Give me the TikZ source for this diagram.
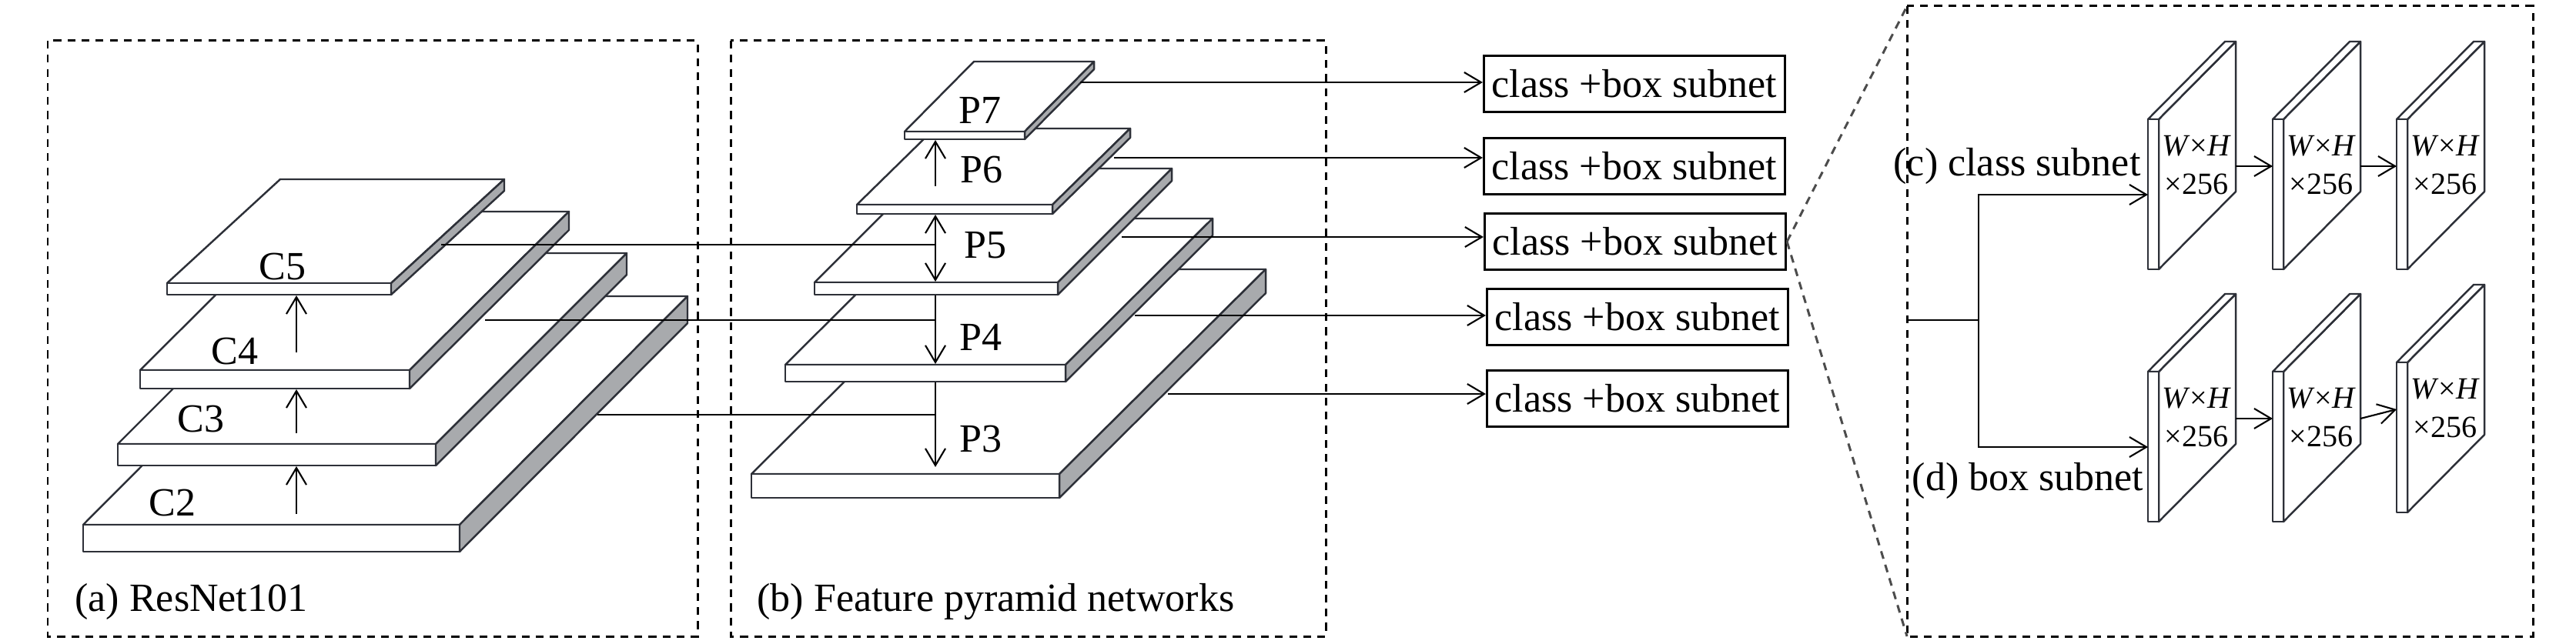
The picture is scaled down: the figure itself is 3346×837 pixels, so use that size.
\documentclass[tikz,border=0pt]{standalone}
\usepackage{fontspec}
\setmainfont{Liberation Serif}
\usetikzlibrary{arrows.meta,calc,positioning}

\definecolor{slabline}{RGB}{45,48,56}
\definecolor{slabgray}{RGB}{168,170,173}

% one feature slab: name, x, y (front top-left), width, depth dx, depth dy, thickness
\newcommand{\slab}[7]{%
  \coordinate (#1-fl) at (#2,#3);
  \coordinate (#1-fr) at (#2+#4,#3);
  \coordinate (#1-br) at (#2+#4+#5,#3-#6);
  \coordinate (#1-bl) at (#2+#5,#3-#6);
  \draw[face] (#1-fl) -- (#1-fr) -- (#1-br) -- (#1-bl) -- cycle;
  \draw[face] (#1-fl) rectangle ($(#1-fr)+(0,#7)$);
  \draw[side] (#1-fr) -- (#1-br) -- ++(0,#7) -- ($(#1-fr)+(0,#7)$) -- cycle;
}

% one subnet map standing upright: name, x, y (front top-left)
\newcommand{\fmap}[3]{%
  \coordinate (#1-feed) at (#2,#3+98);
  \coordinate (#1-in) at (#2,#3+61);
  \coordinate (#1-out) at (#2+114,#3+61);
  \draw[face] (#2+14,#3) -- ++(100,-101) -- ++(0,195) -- ++(-100,101) -- cycle;
  \draw[face] (#2,#3) -- ++(100,-101) -- ++(14,0) -- ++(-100,101) -- cycle;
  \draw[face] (#2,#3) rectangle ++(14,195);
  \node[maplabel] (#1-wh) at (#2+63,#3+35) {\textit{W}×\textit{H}};
  \node[maplabel] (#1-ch) at (#2+63,#3+84) {×256};
}

\begin{document}
\begin{tikzpicture}[x=0.01cm,y=-0.01cm,
  font=\fontsize{14.8}{17}\selectfont,
  region/.style={draw,line width=0.85pt,dash pattern=on 2.9pt off 2.3pt},
  face/.style={draw=slabline,fill=white,line width=0.7pt,line join=round},
  side/.style={draw=slabline,fill=slabgray,line width=0.7pt,line join=round},
  conn/.style={line width=0.6pt},
  arr/.style={conn,-{Straight Barb[length=2.2mm,width=2.6mm]}},
  subnet/.style={draw,line width=0.85pt,minimum width=3.91cm,minimum height=0.72cm,inner sep=0pt},
  maplabel/.style={font=\fontsize{11.4}{13}\selectfont}]
  \useasboundingbox (0,0) rectangle (3346,837);

  % regions
  \coordinate (c-tl) at (2477,8);
  \coordinate (c-bl) at (2477,827);
  \draw[region] (62,53) rectangle (906,827);
  \draw[region] (949,53) rectangle (1722,827);
  \draw[region] (c-tl) rectangle (3290,827);
  \node[anchor=base west] (a-lab) at (85,794) {(a) ResNet101};
  \node[anchor=base west] (b-lab) at (971,794) {(b) Feature pyramid networks};

  % (a) backbone
  \slab{c2}{108}{682}{489}{296}{297}{35}
  \slab{c3}{153}{577}{413}{248}{248}{28}
  \slab{c4}{182}{481}{350}{207}{206}{24}
  \slab{c5}{217}{368}{291}{147}{135}{15}
  \node (c2-lab) at (224,654) {C2};
  \node (c3-lab) at (261,545) {C3};
  \node (c4-lab) at (305,457) {C4};
  \node (c5-lab) at (367,347) {C5};
  \coordinate (c2-top) at (385,668);
  \coordinate (c3-bot) at (385,606);
  \coordinate (c3-top) at (385,563);
  \coordinate (c4-bot) at (385,506);
  \coordinate (c4-top) at (385,458);
  \coordinate (c5-bot) at (385,384);
  \draw[arr] (c2-top) -- (c3-bot);
  \draw[arr] (c3-top) -- (c4-bot);
  \draw[arr] (c4-top) -- (c5-bot);

  % (b) pyramid
  \slab{p3}{976}{616}{400}{268}{266}{31}
  \slab{p4}{1020}{474}{364}{191}{190}{22}
  \slab{p5}{1058}{367}{316}{148}{148}{16}
  \slab{p6}{1113}{266}{254}{101}{99}{12}
  \slab{p7}{1175}{171}{156}{90}{91}{10}
  \node (p3-lab) at (1274,571) {P3};
  \node (p4-lab) at (1274,438) {P4};
  \node (p5-lab) at (1280,319) {P5};
  \node (p6-lab) at (1275,221) {P6};
  \node (p7-lab) at (1273,143) {P7};
  \coordinate (p6-top) at (1215,242);
  \coordinate (p7-bot) at (1215,182);
  \coordinate (p6-bot) at (1215,279);
  \coordinate (p5-top) at (1215,366);
  \coordinate (p5-bot) at (1215,384);
  \coordinate (p4-top) at (1215,473);
  \coordinate (p4-bot) at (1215,497);
  \coordinate (p3-top) at (1215,607);
  \draw[arr] (p6-top) -- (p7-bot);
  \draw[conn,{Straight Barb[length=2.2mm,width=2.6mm]}-{Straight Barb[length=2.2mm,width=2.6mm]}] (p6-bot) -- (p5-top);
  \draw[arr] (p5-bot) -- (p4-top);
  \draw[arr] (p4-bot) -- (p3-top);

  % lateral links
  \coordinate (c5-out) at (573,318);
  \coordinate (c4-out) at (630,416);
  \coordinate (c2-out) at (776,539);
  \draw[conn] (c5-out) -- (c5-out -| p5-top);
  \draw[conn] (c4-out) -- (c4-out -| p4-top);
  \draw[conn] (c2-out) -- (c2-out -| p3-top);

  % heads
  \node[subnet] (box1) at (2123,109) {class +box subnet};
  \node[subnet] (box2) at (2123,216) {class +box subnet};
  \node[subnet] (box3) at (2124,314) {class +box subnet};
  \node[subnet] (box4) at (2127,412) {class +box subnet};
  \node[subnet] (box5) at (2127,518) {class +box subnet};
  \coordinate (p7-out) at (1403,107);
  \coordinate (p6-out) at (1447,205);
  \coordinate (p5-out) at (1457,308);
  \coordinate (p4-out) at (1474,410);
  \coordinate (p3-out) at (1517,512);
  \draw[arr] (p7-out) -- (p7-out -| box1.west);
  \draw[arr] (p6-out) -- (p6-out -| box2.west);
  \draw[arr] (p5-out) -- (p5-out -| box3.west);
  \draw[arr] (p4-out) -- (p4-out -| box4.west);
  \draw[arr] (p3-out) -- (p3-out -| box5.west);
  \draw[region,black!70] (box3.east) -- (c-tl);
  \draw[region,black!70] (box3.east) -- (c-bl);

  % (c)/(d) subnets
  \fmap{m11}{2790}{155}
  \fmap{m12}{2952}{155}
  \fmap{m13}{3113}{155}
  \fmap{m21}{2790}{483}
  \fmap{m22}{2952}{483}
  \fmap{m23}{3113}{471}
  \draw[arr] (m11-out) -- (m12-in);
  \draw[arr] (m12-out) -- (m13-in);
  \draw[arr] (m21-out) -- (m22-in);
  \draw[arr] (m22-out) -- (m23-in);
  \coordinate (c-in) at (2477,416);
  \coordinate (c-split) at (2570,416);
  \draw[conn] (c-in) -- (c-split);
  \draw[arr] (c-split) |- (m11-feed);
  \draw[arr] (c-split) |- (m21-feed);
  \node (cls-lab) at (2620,216) {(c) class subnet};
  \node (box-lab) at (2634,625) {(d) box subnet};
\end{tikzpicture}
\end{document}
